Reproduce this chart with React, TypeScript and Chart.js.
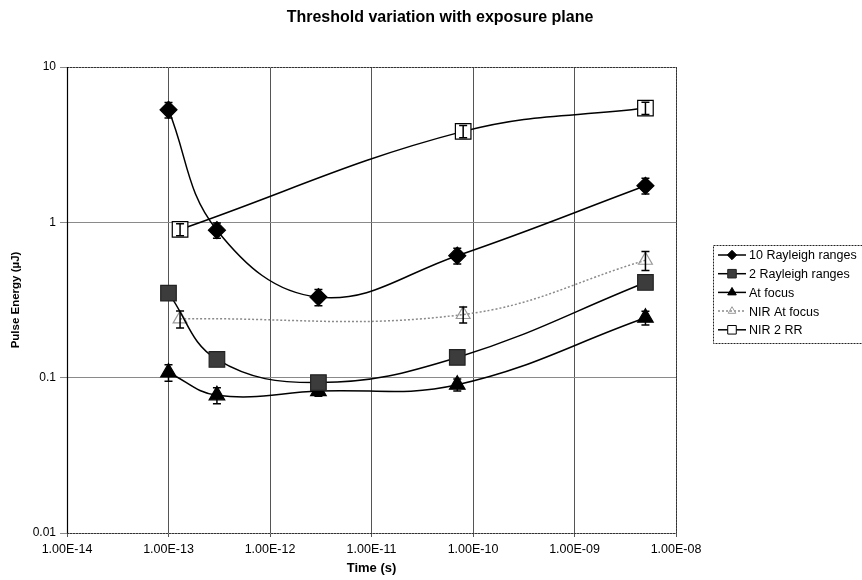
import React, { useEffect, useRef } from "react";
import { Chart, registerables } from "chart.js";
import { drawPoint } from "chart.js/helpers";

Chart.register(...registerables);

const chartTitle = "Threshold variation with exposure plane";
const xTitle = "Time (s)";
const yTitle = "Pulse Energy (\u00b5J)";

const xTickValues = [1e-14, 1e-13, 1e-12, 1e-11, 1e-10, 1e-9, 1e-8];
const xTickLabels = ["1.00E-14", "1.00E-13", "1.00E-12", "1.00E-11", "1.00E-10", "1.00E-09", "1.00E-08"];
const yTickValues = [0.01, 0.1, 1, 10];
const yTickLabels = ["0.01", "0.1", "1", "10"];

const seriesNames = ["10 Rayleigh ranges", "2 Rayleigh ranges", "At focus", "NIR At focus", "NIR 2 RR"];

const visTimes = [1e-13, 3e-13, 3e-12, 7e-11, 5e-9];
const nirTimes = [1.3e-13, 8e-11, 5e-9];

const tenRR = [5.3, 0.89, 0.33, 0.61, 1.72];
const tenRRErr = [0.6, 0.1, 0.04, 0.07, 0.2];
const twoRR = [0.35, 0.131, 0.093, 0.135, 0.41];
const twoRRErr = [0.03, 0.01, 0.007, 0.01, 0.03];
const atFocus = [0.108, 0.077, 0.082, 0.09, 0.243];
const atFocusErr = [0.013, 0.009, 0.006, 0.008, 0.025];
const nirAtFocus = [0.239, 0.255, 0.57];
const nirAtFocusErr = [0.03, 0.03, 0.08];
const nir2RR = [0.9, 3.85, 5.44];
const nir2RRErr = [0.08, 0.35, 0.5];

const FONT = "'Liberation Sans', Arial, sans-serif";

function pts(xs: number[], ys: number[]) {
  return xs.map((x, i) => ({ x, y: ys[i] }));
}

function drawErrors(chart: any, top: boolean) {
  const ctx = chart.ctx;
  const xs = chart.scales.x;
  const ys = chart.scales.y;
  chart.data.datasets.forEach((ds: any) => {
    if (!!ds.errTop !== top) return;
    ds.data.forEach((p: any, j: number) => {
      const e = ds.errors[j];
      const x = xs.getPixelForValue(p.x);
      const y1 = ys.getPixelForValue(p.y + e);
      const y2 = ys.getPixelForValue(p.y - e);
      ctx.save();
      ctx.strokeStyle = ds.errColor;
      ctx.lineWidth = 1.5;
      ctx.beginPath();
      ctx.moveTo(x, y1);
      ctx.lineTo(x, y2);
      ctx.moveTo(x - 4, y1);
      ctx.lineTo(x + 4, y1);
      ctx.moveTo(x - 4, y2);
      ctx.lineTo(x + 4, y2);
      ctx.stroke();
      ctx.restore();
    });
  });
}

const decorPlugin = {
  id: "decor",
  beforeDatasetsDraw(chart: any) {
    const { ctx, chartArea } = chart;
    ctx.save();
    ctx.strokeStyle = "#333";
    ctx.lineWidth = 1;
    ctx.setLineDash([2, 1]);
    ctx.beginPath();
    ctx.moveTo(chartArea.left, chartArea.top + 0.5);
    ctx.lineTo(chartArea.right, chartArea.top + 0.5);
    ctx.moveTo(chartArea.right + 0.5, chartArea.top);
    ctx.lineTo(chartArea.right + 0.5, chartArea.bottom);
    ctx.moveTo(chartArea.left, chartArea.bottom + 0.5);
    ctx.lineTo(chartArea.right, chartArea.bottom + 0.5);
    ctx.stroke();
    ctx.setLineDash([]);
    ctx.strokeStyle = "#000";
    ctx.lineWidth = 1.2;
    ctx.beginPath();
    ctx.moveTo(chartArea.left + 0.5, chartArea.top);
    ctx.lineTo(chartArea.left + 0.5, chartArea.bottom);
    ctx.stroke();
    ctx.restore();
    drawErrors(chart, false);
  },
  afterDatasetsDraw(chart: any) {
    drawErrors(chart, true);
  },
  afterDraw(chart: any) {
    const ctx = chart.ctx;
    ctx.save();
    ctx.fillStyle = "#000";
    ctx.font = `bold 16px ${FONT}`;
    ctx.textAlign = "center";
    ctx.textBaseline = "middle";
    ctx.fillText(chartTitle, 440, 18);
    ctx.strokeStyle = "#222";
    ctx.lineWidth = 1;
    ctx.setLineDash([2, 1]);
    ctx.strokeRect(713.5, 245.5, 160, 98);
    ctx.setLineDash([]);
    ctx.font = `12.5px ${FONT}`;
    ctx.textAlign = "left";
    chart.data.datasets.forEach((ds: any, i: number) => {
      const y = 255 + i * 18.7;
      ctx.save();
      ctx.strokeStyle = ds.borderColor;
      ctx.lineWidth = ds.borderWidth;
      ctx.setLineDash(ds.borderDash || []);
      ctx.beginPath();
      ctx.moveTo(718, y);
      ctx.lineTo(746, y);
      ctx.stroke();
      ctx.setLineDash([]);
      ctx.fillStyle = ds.pointBackgroundColor;
      ctx.strokeStyle = ds.pointBorderColor;
      ctx.lineWidth = 1;
      drawPoint(ctx, { pointStyle: ds.pointStyle, rotation: 0, radius: ds.pointRadius * 0.55, borderWidth: 1 } as any, 732, y);
      ctx.restore();
      ctx.fillStyle = "#000";
      ctx.fillText(ds.label, 749, y + 1);
    });
    ctx.restore();
  },
};

export default function App() {
  const ref = useRef<HTMLCanvasElement>(null);
  useEffect(() => {
    if (!ref.current) return;
    const datasets: any[] = [
      {
        label: seriesNames[0],
        data: pts(visTimes, tenRR),
        errors: tenRRErr,
        errColor: "#000",
        borderColor: "#000",
        borderWidth: 1.5,
        pointStyle: "rectRot",
        pointRadius: 8.5,
        pointBackgroundColor: "#000",
        pointBorderColor: "#000",
      },
      {
        label: seriesNames[1],
        data: pts(visTimes, twoRR),
        errors: twoRRErr,
        errColor: "#000",
        borderColor: "#000",
        borderWidth: 1.5,
        pointStyle: "rect",
        pointRadius: 11,
        pointBackgroundColor: "#3c3c3c",
        pointBorderColor: "#222",
      },
      {
        label: seriesNames[2],
        data: pts(visTimes, atFocus),
        errors: atFocusErr,
        errColor: "#000",
        borderColor: "#000",
        borderWidth: 1.5,
        pointStyle: "triangle",
        pointRadius: 9,
        pointBackgroundColor: "#000",
        pointBorderColor: "#000",
      },
      {
        label: seriesNames[3],
        data: pts(nirTimes, nirAtFocus),
        errors: nirAtFocusErr,
        errColor: "#000",
        errTop: true,
        borderColor: "#8a8a8a",
        borderWidth: 1.5,
        borderDash: [2, 2],
        pointStyle: "triangle",
        pointRadius: 8,
        pointBackgroundColor: "rgba(255,255,255,0)",
        pointBorderColor: "#999",
      },
      {
        label: seriesNames[4],
        data: pts(nirTimes, nir2RR),
        errors: nir2RRErr,
        errColor: "#000",
        errTop: true,
        borderColor: "#000",
        borderWidth: 1.5,
        pointStyle: "rect",
        pointRadius: 11,
        pointBackgroundColor: "#fff",
        pointBorderColor: "#000",
      },
    ];
    datasets.forEach((d) => {
      d.tension = 0.4;
      d.fill = false;
      d.pointBorderWidth = 1.2;
      d.pointHoverRadius = d.pointRadius;
    });
    const chart = new Chart(ref.current, {
      type: "line",
      data: { datasets },
      plugins: [decorPlugin],
      options: {
        animation: false,
        responsive: false,
        layout: { padding: { top: 67, right: 186, left: 0, bottom: 0 } },
        plugins: { legend: { display: false }, title: { display: false }, tooltip: { enabled: false } },
        scales: {
          x: {
            type: "logarithmic",
            min: 1e-14,
            max: 1e-8,
            afterBuildTicks: (s: any) => {
              s.ticks = xTickValues.map((v) => ({ value: v }));
            },
            afterFit: (s: any) => {
              s.height = 47;
            },
            ticks: {
              autoSkip: false,
              maxRotation: 0,
              padding: 5,
              color: "#000",
              font: { family: FONT, size: 12.5 },
              callback: (_v: any, i: number) => xTickLabels[i],
            },
            grid: { color: "#555", lineWidth: 1, tickLength: 4 },
            border: { display: false },
            title: {
              display: true,
              text: xTitle,
              color: "#000",
              font: { family: FONT, size: 13, weight: "bold" },
              padding: { top: 0, bottom: 4 },
            },
          },
          y: {
            type: "logarithmic",
            min: 0.01,
            max: 10,
            afterBuildTicks: (s: any) => {
              s.ticks = yTickValues.map((v) => ({ value: v }));
            },
            afterFit: (s: any) => {
              s.width = 67;
            },
            ticks: {
              autoSkip: false,
              padding: 4,
              color: "#000",
              font: { family: FONT, size: 12 },
              callback: (_v: any, i: number) => yTickLabels[i],
            },
            grid: { color: "#8a8a8a", lineWidth: 1, tickLength: 7 },
            border: { display: false },
            title: {
              display: true,
              text: yTitle,
              color: "#000",
              font: { family: FONT, size: 11.5, weight: "bold" },
              padding: { top: 9, bottom: 0 },
            },
          },
        },
      } as any,
    });
    return () => chart.destroy();
  }, []);
  return (
    <div style={{ position: "fixed", left: 0, top: 0, width: 862, height: 580, background: "#fff" }}>
      <canvas ref={ref} width={862} height={580} />
    </div>
  );
}
